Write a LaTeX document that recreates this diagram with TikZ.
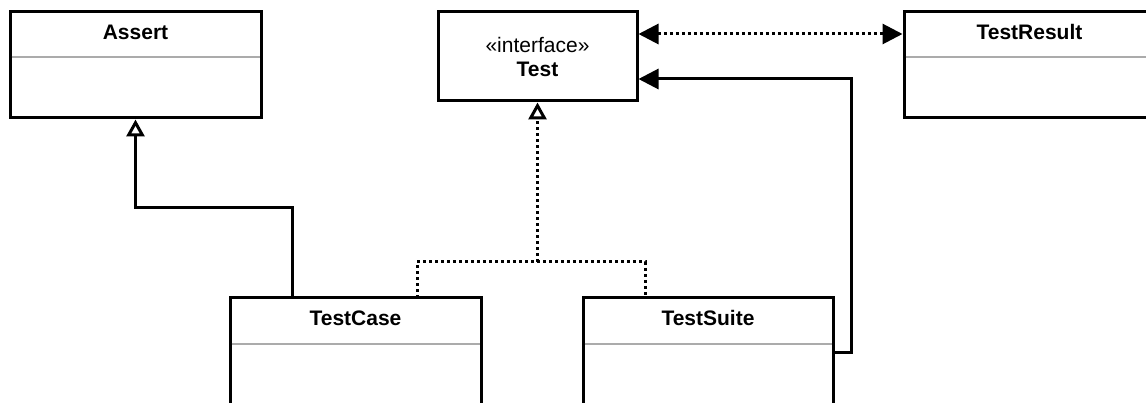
\documentclass[tikz,border=0pt]{standalone}
\usepackage{fontspec}
\setmainfont{Liberation Sans}
\usetikzlibrary{arrows.meta,calc}
\definecolor{sepgray}{HTML}{ABABAB}
\tikzset{
  cls/.style={draw=black, line width=3pt, fill=white, inner sep=0pt, outer sep=0pt, anchor=north west},
  title/.style={font=\fontsize{21}{25}\selectfont\bfseries, anchor=base, inner sep=0pt},
  stereo/.style={font=\fontsize{21}{25}\selectfont, anchor=base, inner sep=0pt},
  sepline/.style={draw=sepgray, line width=2pt, shorten <=1.5pt, shorten >=1.5pt},
  conn/.style={draw=black, line width=3pt},
  dotline/.style={draw=black, line width=3pt, dash pattern=on 3pt off 3pt},
  gentip/.style={-{Triangle[open, width=18pt, length=17pt]}, shorten >=1.5pt},
  filltip/.style={-{Triangle[width=20pt, length=20pt]}, shorten >=1.5pt},
  dbltip/.style={{Triangle[width=20pt, length=20pt]}-{Triangle[width=20pt, length=20pt]}, shorten >=1.5pt, shorten <=1.5pt},
}
\begin{document}
\begin{tikzpicture}[x=1pt, y=-1pt]
\useasboundingbox (0,0) rectangle (1146,403);
\begin{scope}
\clip (0,0) rectangle (1146,403);
\fill[white] (0,0) rectangle (1146,403);

% boxes
\node[cls, minimum width=251pt, minimum height=106pt] (assert) at (10,12) {};
\node[cls, minimum width=199pt, minimum height=89pt] (test) at (438,12) {};
\node[cls, minimum width=251pt, minimum height=106pt] (result) at (904,12) {};
\node[cls, minimum width=251pt, minimum height=160pt] (tcase) at (230,298) {};
\node[cls, minimum width=250pt, minimum height=160pt] (tsuite) at (583,298) {};

% separators
\draw[sepline] ($(assert.north west)+(0,45)$) -- ($(assert.north east)+(0,45)$);
\draw[sepline] ($(result.north west)+(0,45)$) -- ($(result.north east)+(0,45)$);
\draw[sepline] ($(tcase.north west)+(0,46)$) -- ($(tcase.north east)+(0,46)$);
\draw[sepline] ($(tsuite.north west)+(0,46)$) -- ($(tsuite.north east)+(0,46)$);

% titles
\node[title] (assertT) at ($(assert.north)+(0,28)$) {Assert};
\node[stereo] (testS) at ($(test.north)+(0,41)$) {«interface»};
\node[title] (testT) at ($(test.north)+(0,65)$) {Test};
\node[title] (resultT) at ($(result.north)+(0,28)$) {TestResult};
\node[title] (tcaseT) at ($(tcase.north)+(0,27.5)$) {TestCase};
\node[title] (tsuiteT) at ($(tsuite.north)+(0,27.5)$) {TestSuite};

% TestCase -> Assert (generalization)
\draw[conn, gentip] ($(tcase.north west)+(62,0)$) -- ++(0,-90) -| (assert.south);

% realization TestCase/TestSuite -> Test
\coordinate (junc) at (537.5,262);
\draw[dotline] ($(tcase.north west)+(187,0)$) -- ++(0,-36) -| ($(tsuite.north west)+(62,0)$);
\draw[dotline, gentip] (junc) -- (test.south);

% Test <-> TestResult
\draw[dotline, dbltip] ($(test.north east)+(0,22)$) -- ($(result.north west)+(0,22)$);

% TestSuite -> Test
\draw[conn, filltip] ($(tsuite.north east)+(0,54)$) -- ++(18,0) |- ($(test.north east)+(0,67)$);
\end{scope}
\end{tikzpicture}
\end{document}
